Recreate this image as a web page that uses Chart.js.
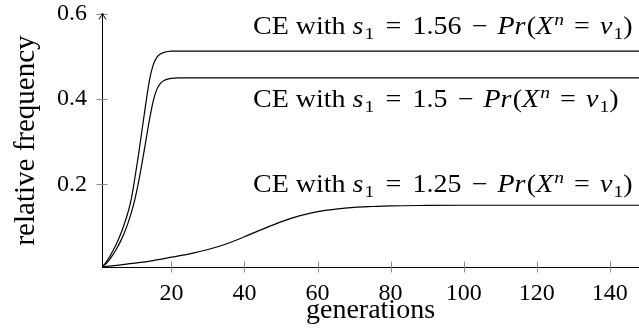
<!DOCTYPE html>
<html>
<head>
<meta charset="utf-8">
<script src="https://cdn.jsdelivr.net/npm/chart.js@4.4.1/dist/chart.umd.min.js"></script>
<style>
html,body{margin:0;padding:0;background:#fff;}
#wrap{width:639px;height:328px;}
</style>
</head>
<body>
<div id="wrap"><canvas id="c" width="639" height="328"></canvas></div>
<script>
// ---- data ----
const genA  = [1,2,3,4,5,6,7,8,9,10,11,12,13,14,15,16,17,18,19,20,22,30,148];
const freqA = [0.006,0.016,0.029,0.044,0.061,0.081,0.104,0.131,0.165,0.215,0.27,0.33,0.39,0.445,0.48,0.498,0.506,0.510,0.512,0.513,0.513,0.513,0.513];

const genB  = [1,2,3,4,5,6,7,8,9,10,11,12,13,14,15,16,17,18,19,20,22,30,148];
const freqB = [0.006,0.013,0.023,0.035,0.049,0.065,0.084,0.106,0.133,0.165,0.205,0.252,0.302,0.352,0.395,0.423,0.437,0.444,0.447,0.449,0.45,0.45,0.45];

const genC  = [1,5,10,15,20,25,30,35,40,45,50,55,60,65,70,75,80,90,100,148];
const freqC = [0.006,0.010,0.015,0.021,0.029,0.037,0.047,0.060,0.077,0.095,0.112,0.126,0.136,0.142,0.146,0.148,0.1495,0.1505,0.151,0.151];

const seriesS1 = ['1.56','1.5','1.25'];
const xTicks = [20,40,60,80,100,120,140];
const yTicks = [0.2,0.4,0.6];
const xTitle = 'generations';
const yTitle = 'relative frequency';

// ---- chart ----
const SERIF = "'Liberation Serif', serif";
function pts(xs, ys){ return xs.map((x,i)=>({x:x, y:ys[i]})); }

const labelLayout = { left:253, stretch:1.12, dy:[-17, 29, -13] };

function drawLabel(ctx, x, y, value){
  const fs = 25, small = 17.5;
  const segs = [
    {t:'CE with ', i:false},
    {t:'s', i:true},
    {t:'1', i:false, sub:true},
    {gap:0.4},
    {t:'=', i:false},
    {gap:0.4},
    {t:value, i:false},
    {gap:0.36},
    {t:'\u2212', i:false},
    {gap:0.36},
    {t:'Pr', i:true},
    {t:'(', i:false},
    {t:'X', i:true},
    {t:'n', i:true, sup:true},
    {gap:0.36},
    {t:'=', i:false},
    {gap:0.36},
    {t:'v', i:true},
    {t:'1', i:false, sub:true},
    {t:')', i:false}
  ];
  ctx.save();
  ctx.translate(x, y);
  ctx.scale(labelLayout.stretch, 1);
  ctx.fillStyle = '#000';
  ctx.textBaseline = 'alphabetic';
  ctx.textAlign = 'left';
  let cx = 0;
  for (const s of segs){
    if (s.gap){ cx += s.gap*fs; continue; }
    const size = (s.sub||s.sup) ? small : fs;
    ctx.font = (s.i?'italic ':'') + size + 'px ' + SERIF;
    let yy = 0;
    if (s.sub) yy += 5;
    if (s.sup) yy -= 9;
    ctx.fillText(s.t, cx, yy);
    cx += ctx.measureText(s.t).width + (s.i && !s.sup ? 1 : 0);
  }
  ctx.restore();
}

const decor = {
  id:'decor',
  beforeDatasetsDraw(chart){
    const ctx = chart.ctx, xs = chart.scales.x, ys = chart.scales.y;
    ctx.save();
    ctx.strokeStyle = '#8c8c8c';
    ctx.lineWidth = 1;
    ctx.beginPath();
    for (const v of yTicks){
      const py = Math.round(ys.getPixelForValue(v)) + 0.5;
      ctx.moveTo(xs.left - 5.5, py); ctx.lineTo(xs.left + 5.5, py);
    }
    for (const v of xTicks){
      const px = Math.round(xs.getPixelForValue(v)) + 0.5;
      ctx.moveTo(px, ys.bottom - 5.5); ctx.lineTo(px, ys.bottom + 5.5);
    }
    ctx.stroke();
    ctx.restore();
  },
  afterDraw(chart){
    const ctx = chart.ctx, xs = chart.scales.x, ys = chart.scales.y;
    const ax = xs.left + 0.5, ay = ys.top - 1;
    ctx.save();
    ctx.strokeStyle = '#000';
    ctx.lineWidth = 1;
    ctx.beginPath();
    ctx.moveTo(ax, ay); ctx.lineTo(ax, ys.top + 2);
    ctx.moveTo(ax - 3.5, ay + 6.5);
    ctx.quadraticCurveTo(ax - 0.5, ay + 2, ax, ay);
    ctx.quadraticCurveTo(ax + 0.5, ay + 2, ax + 3.5, ay + 6.5);
    ctx.stroke();
    ctx.restore();
    const plateaus = [freqA[freqA.length-1], freqB[freqB.length-1], freqC[freqC.length-1]];
    seriesS1.forEach((v,i)=>{
      const py = ys.getPixelForValue(plateaus[i]) + labelLayout.dy[i];
      drawLabel(ctx, labelLayout.left, py, v);
    });
  }
};

const lineStyle = {borderColor:'#000', borderWidth:1.2, pointRadius:0, showLine:true, fill:false, cubicInterpolationMode:'monotone'};

new Chart(document.getElementById('c'), {
  type:'scatter',
  data:{
    datasets:[
      Object.assign({label:'s1 = ' + seriesS1[0], data:pts(genA,freqA)}, lineStyle),
      Object.assign({label:'s1 = ' + seriesS1[1], data:pts(genB,freqB)}, lineStyle),
      Object.assign({label:'s1 = ' + seriesS1[2], data:pts(genC,freqC)}, lineStyle)
    ]
  },
  options:{
    responsive:false,
    devicePixelRatio:1,
    animation:false,
    layout:{padding:{top:14,right:0,bottom:0,left:0}},
    plugins:{legend:{display:false}, tooltip:{enabled:false}},
    scales:{
      x:{
        type:'linear', min:1, max:148,
        afterBuildTicks(s){ s.ticks = xTicks.map(v=>({value:v})); },
        afterFit(s){ s.height = 61; s.paddingLeft = 0; s.paddingRight = 0; },
        grid:{display:false, drawTicks:false},
        border:{display:true, color:'#000', width:1},
        ticks:{color:'#000', font:{family:SERIF, size:24}, padding:12, maxRotation:0, autoSkip:false},
        title:{display:true, text:xTitle, color:'#000', font:{family:SERIF, size:28}, padding:{top:0,bottom:1}}
      },
      y:{
        type:'linear', min:0.006, max:0.6,
        afterBuildTicks(s){ s.ticks = yTicks.map(v=>({value:v})); },
        afterFit(s){ s.width = 102; s.paddingTop = 0; s.paddingBottom = 0; },
        grid:{display:false, drawTicks:false},
        border:{display:true, color:'#000', width:1},
        ticks:{color:'#000', font:{family:SERIF, size:24}, padding:15, callback:(v)=>v.toFixed(1)},
        title:{display:true, text:yTitle, color:'#000', font:{family:SERIF, size:29}, padding:{top:9,bottom:0}}
      }
    }
  },
  plugins:[decor]
});
</script>
</body>
</html>
